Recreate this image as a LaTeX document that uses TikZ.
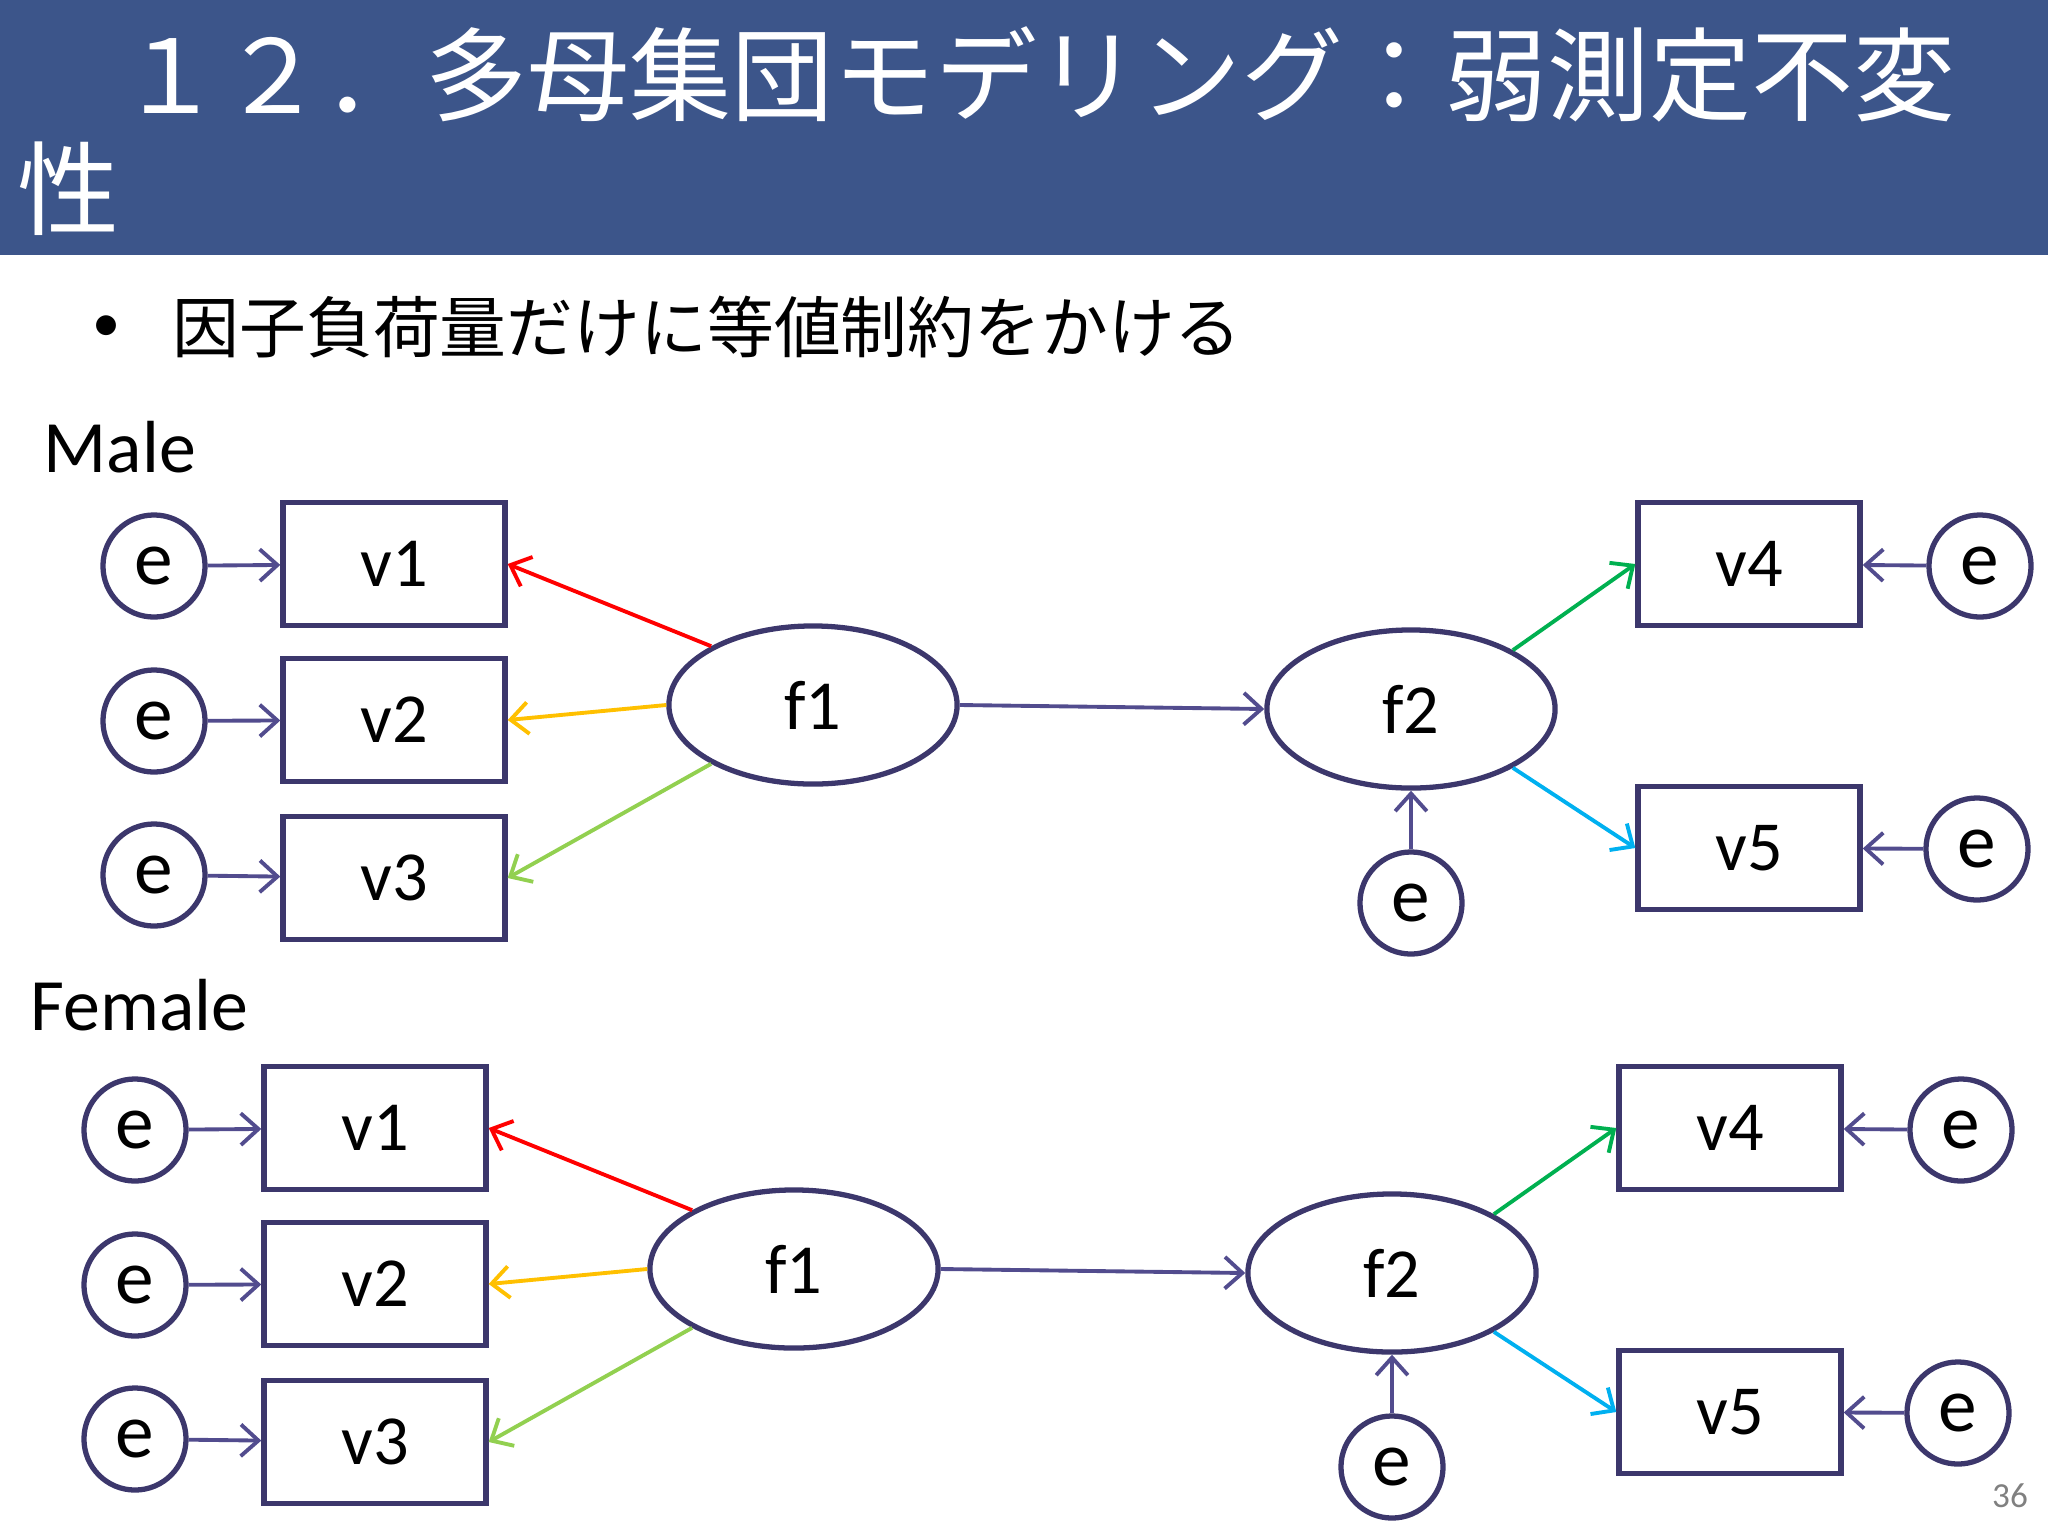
\documentclass[tikz,border=0pt]{standalone}
\usepackage{fontspec}
\setmainfont{Carlito}
\newfontfamily\jpfont{Noto Sans CJK JP}
\usetikzlibrary{arrows.meta,shapes.geometric}
\definecolor{headblue}{RGB}{60,85,138}
\definecolor{semnavy}{RGB}{60,55,108}
\definecolor{pathnavy}{RGB}{82,76,142}
\definecolor{load1}{RGB}{255,0,0}
\definecolor{load2}{RGB}{255,192,0}
\definecolor{load3}{RGB}{146,208,80}
\definecolor{load4}{RGB}{0,176,80}
\definecolor{load5}{RGB}{0,176,240}

\begin{document}
\begin{tikzpicture}[x=0.01cm, y=-0.01cm, >={Straight Barb[length=5pt,width=9pt]},
	obsbox/.style={draw=semnavy, line width=1.5pt, minimum width=2.22cm, minimum height=1.23cm, font=\fontsize{20}{24}\selectfont},
	latent/.style={draw=semnavy, line width=1.5pt, ellipse, minimum width=2.88cm, minimum height=1.58cm, inner sep=0pt, font=\fontsize{20}{24}\selectfont},
	errnode/.style={draw=semnavy, line width=1.5pt, circle, minimum size=1.02cm, inner sep=0pt, font=\fontsize{22}{26}\selectfont},
	errpath/.style={->, pathnavy, line width=1.1pt},
	loadpath/.style={->, line width=1.1pt}]
	\useasboundingbox (0,0) rectangle (2048,1536);
	\fill[headblue] (0,0) rectangle (2048,255);
	\node[anchor=west, inner sep=0pt, white, font=\jpfont\fontsize{29}{34}\selectfont] (title1) at (17,74) {　１２．多母集団モデリング：弱測定不変};
	\node[anchor=west, inner sep=0pt, white, font=\jpfont\fontsize{29}{34}\selectfont] (title2) at (17,189) {性};
	\node[inner sep=0pt, font=\fontsize{16}{20}\selectfont] (bullet) at (107,329) {•};
	\node[anchor=west, inner sep=0pt, font=\jpfont\fontsize{19}{23}\selectfont] (point) at (172,327) {因子負荷量だけに等値制約をかける};
	\node[anchor=base west, inner sep=0pt, font=\fontsize{21}{25}\selectfont] (male) at (43,472) {Male};
	\node[anchor=base west, inner sep=0pt, font=\fontsize{21}{25}\selectfont] (female) at (30,1030) {Female};
	\foreach \g/\sx/\sy in {m/0/0, w/-19/564} {
		\begin{scope}[shift={(\sx,\sy)}]
		\node[latent] (\g f1) at (813,705) {f1};
		\node[latent] (\g f2) at (1411,709) {f2};
		\node[errnode] (\g ef2) at (1411,903) {e};
		\foreach \i/\ye/\yv in {1/566/564, 2/721/720, 3/875/878} {
			\node[obsbox] (\g v\i) at (394,\yv) {v\i};
			\node[errnode] (\g e\i) at (154,\ye) {e};
			\draw[errpath] (\g e\i) -- (\g v\i);
		}
		\node[obsbox] (\g v4) at (1749,564) {v4};
		\node[obsbox] (\g v5) at (1749,848) {v5};
		\node[errnode] (\g e4) at (1980,566) {e};
		\node[errnode] (\g e5) at (1977,849) {e};
		\draw[errpath] (\g e4) -- (\g v4);
		\draw[errpath] (\g e5) -- (\g v5);
		\draw[loadpath, load1] (\g f1.150) -- (\g v1.east);
		\draw[loadpath, load2] (\g f1.west) -- (\g v2.east);
		\draw[loadpath, load3] (\g f1.210) -- (\g v3.east);
		\draw[errpath] (\g f1.east) -- (\g f2.west);
		\draw[loadpath, load4] (\g f2.30) -- (\g v4.west);
		\draw[loadpath, load5] (\g f2.-30) -- (\g v5.west);
		\draw[errpath] (\g ef2) -- (\g f2);
		\end{scope}
	}
	\node[gray, font=\fontsize{10}{12}\selectfont] (pagenum) at (2010,1496) {36};
\end{tikzpicture}
\end{document}
